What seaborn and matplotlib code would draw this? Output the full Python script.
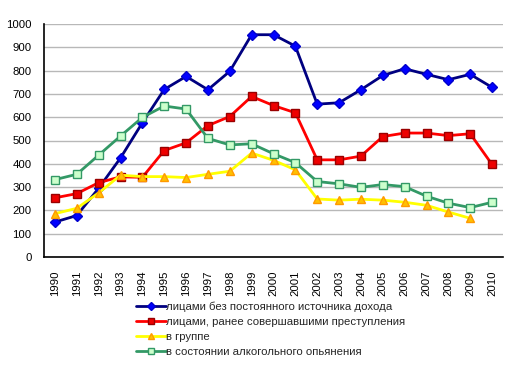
import matplotlib
matplotlib.use("Agg")
import matplotlib.pyplot as plt
import seaborn as sns
import pandas as pd
import numpy as np

years = [str(y) for y in range(1990, 2011)]
no_income = [150, 178, 295, 425, 576, 719, 775, 718, 797, 954, 954, 905, 656, 662, 718, 779, 808, 784, 761, 784, 728]
repeat = [254, 272, 319, 344, 342, 457, 490, 564, 603, 689, 650, 619, 417, 417, 433, 517, 532, 532, 521, 529, 397]
group = [186, 209, 275, 351, 345, 345, 341, 355, 368, 446, 415, 374, 249, 244, 248, 244, 235, 222, 193, 166, np.nan]
drunk = [332, 355, 437, 519, 599, 648, 635, 509, 481, 486, 443, 405, 324, 314, 299, 311, 302, 261, 231, 212, 235]

labels = ["лицами без постоянного источника дохода",
          "лицами, ранее совершавшими преступления",
          "в группе",
          "в состоянии алкогольного опьянения"]

sns.set_theme(style="white")
plt.rcParams['font.family'] = ['Liberation Sans', 'DejaVu Sans']

fig = plt.figure(figsize=(5.14, 3.65), dpi=100)
ax = fig.add_axes([44/514, 1 - 257/365, (503-44)/514, (257-24)/365])

x = np.arange(len(years))
styles = [
    dict(color="#000080", marker="D", mfc="#0000FF", mec="#0000CC", ms=5.5),
    dict(color="#FF0000", marker="s", mfc="#EE0000", mec="#990000", ms=6),
    dict(color="#FFFF00", marker="^", mfc="#FFC000", mec="#FF9900", ms=6),
    dict(color="#339966", marker="s", mfc="#CCFFCC", mec="#339966", ms=6),
]
series = [no_income, repeat, group, drunk]
for vals, lab, st in zip(series, labels, styles):
    df = pd.DataFrame({"x": x, "y": vals})
    sns.lineplot(data=df, x="x", y="y", ax=ax, color=st["color"], lw=2,
                 marker=st["marker"], markerfacecolor=st["mfc"],
                 markeredgecolor=st["mec"], markersize=st["ms"],
                 markeredgewidth=1, label=lab)

ax.set_xlim(-0.5, len(years) - 0.5)
ax.set_ylim(0, 1000)
ax.set_yticks(range(0, 1001, 100))
ax.set_xticks(x)
ax.set_xticklabels(years, rotation=90, fontsize=8.2, color="black")
ax.tick_params(axis="y", labelsize=8.2, colors="black", length=0, pad=9)
ax.tick_params(axis="x", length=0, pad=10)
ax.set_xlabel("")
ax.set_ylabel("")
ax.grid(axis="y", color="#B8B8B8", lw=1)
ax.grid(axis="x", visible=False)
for s in ["top", "right"]:
    ax.spines[s].set_visible(False)
for s in ["left", "bottom"]:
    ax.spines[s].set_color("black")
    ax.spines[s].set_linewidth(1.2)

leg = ax.legend(loc="upper left", frameon=False, fontsize=8.2, handlelength=2.6,
                handletextpad=0.05, labelspacing=0.42, borderaxespad=0, borderpad=0)
leg.set_bbox_to_anchor((136/514, (365-302)/365), transform=fig.transFigure)
for h in leg.legend_handles:
    h.set_markersize(4)

fig.savefig("out.png", dpi=100)
